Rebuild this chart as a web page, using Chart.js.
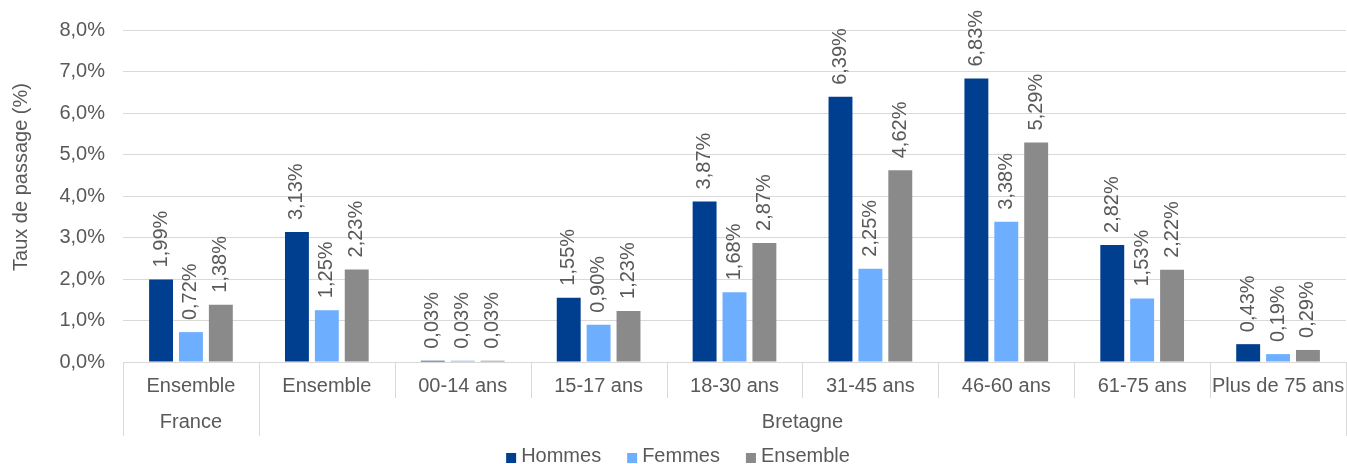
<!DOCTYPE html>
<html lang="fr">
<head>
<meta charset="utf-8">
<title>Taux de passage</title>
<script src="https://cdn.jsdelivr.net/npm/chart.js@4"></script>
<style>
  body { margin: 0; background: #fff; }
  #chart { display: block; }
</style>
</head>
<body>
<canvas id="chart" width="1347" height="464"></canvas>
<script>
// Categories and groups under the x axis
const categories = ['Ensemble', 'Ensemble', '00-14 ans', '15-17 ans', '18-30 ans', '31-45 ans', '46-60 ans', '61-75 ans', 'Plus de 75 ans'];
const groupNames = ['France', 'Bretagne'];
const groupSizes = [1, 8];

// Rates in percent
const hommes = [1.99, 3.13, 0.03, 1.55, 3.87, 6.39, 6.83, 2.82, 0.43];
const femmes = [0.72, 1.25, 0.03, 0.90, 1.68, 2.25, 3.38, 1.53, 0.19];
const ensemble = [1.38, 2.23, 0.03, 1.23, 2.87, 4.62, 5.29, 2.22, 0.29];

const yTicks = [0, 1, 2, 3, 4, 5, 6, 7, 8];

const FONT = '"Liberation Sans", Arial, sans-serif';
const TEXT = '#595959';
const LINE = '#d9d9d9';

function frPercent(v, digits) {
    return v.toFixed(digits).replace('.', ',') + '%';
}

// Value labels written vertically above each bar
const barLabels = {
    id: 'barLabels',
    afterDatasetsDraw(chart) {
        const ctx = chart.ctx;
        ctx.save();
        ctx.font = '20px ' + FONT;
        ctx.fillStyle = TEXT;
        ctx.textAlign = 'left';
        ctx.textBaseline = 'middle';
        chart.data.datasets.forEach((ds, i) => {
            chart.getDatasetMeta(i).data.forEach((bar, j) => {
                ctx.save();
                ctx.translate(bar.x, bar.y - 12);
                ctx.rotate(-Math.PI / 2);
                ctx.fillText(frPercent(ds.data[j], 2), 0, 0);
                ctx.restore();
            });
        });
        ctx.restore();
    }
};

// Two-level category axis with separators, y axis title and legend
const groupedAxis = {
    id: 'groupedAxis',
    afterDraw(chart) {
        const ctx = chart.ctx;
        const x = chart.scales.x;
        const top = chart.chartArea.bottom;
        const step = (x.right - x.left) / categories.length;
        ctx.save();
        ctx.strokeStyle = LINE;
        ctx.lineWidth = 1;
        ctx.fillStyle = TEXT;
        ctx.font = '20px ' + FONT;
        ctx.textAlign = 'center';
        ctx.textBaseline = 'middle';

        categories.forEach((c, i) => {
            ctx.fillText(c, x.getPixelForValue(i), top + 24);
        });

        // short separators between categories, long ones between groups
        const groupEdges = [0];
        groupSizes.reduce((acc, n) => { groupEdges.push(acc + n); return acc + n; }, 0);
        for (let i = 0; i <= categories.length; i++) {
            const px = Math.round(x.left + i * step) + 0.5;
            const long = groupEdges.includes(i);
            ctx.beginPath();
            ctx.moveTo(px, top);
            ctx.lineTo(px, top + (long ? 74 : 36));
            ctx.stroke();
        }

        groupNames.forEach((g, k) => {
            const a = x.left + groupEdges[k] * step;
            const b = x.left + groupEdges[k + 1] * step;
            ctx.fillText(g, (a + b) / 2, top + 60);
        });

        // legend, centred under the chart
        const box = 10, gap = 5, itemGap = 26;
        const items = chart.data.datasets.map(ds => ({
            text: ds.label,
            color: ds.backgroundColor,
            w: box + gap + ctx.measureText(ds.label).width
        }));
        const total = items.reduce((s, it) => s + it.w, 0) + itemGap * (items.length - 1);
        let lx = 678 - total / 2;
        const ly = 456;
        ctx.textAlign = 'left';
        items.forEach(it => {
            ctx.fillStyle = it.color;
            ctx.fillRect(lx, ly - 3, box, box);
            ctx.fillStyle = TEXT;
            ctx.fillText(it.text, lx + box + gap, ly);
            lx += it.w + itemGap;
        });

        // y axis title
        ctx.textAlign = 'center';
        ctx.translate(21, 177);
        ctx.rotate(-Math.PI / 2);
        ctx.fillText('Taux de passage (%)', 0, 0);
        ctx.restore();
    }
};

new Chart(document.getElementById('chart'), {
    type: 'bar',
    data: {
        labels: categories,
        datasets: [
            { label: 'Hommes', data: hommes, backgroundColor: '#003f8f' },
            { label: 'Femmes', data: femmes, backgroundColor: '#6daeff' },
            { label: 'Ensemble', data: ensemble, backgroundColor: '#8a8a8a' }
        ]
    },
    options: {
        responsive: false,
        animation: false,
        devicePixelRatio: 1,
        layout: { padding: { top: 29, right: 1, left: 0, bottom: 27 } },
        datasets: {
            bar: { categoryPercentage: 0.66, barPercentage: 0.8 }
        },
        scales: {
            x: {
                grid: { display: false },
                border: { display: false },
                ticks: { display: false },
                afterFit(scale) { scale.height = 75; }
            },
            y: {
                min: 0,
                max: 8,
                afterBuildTicks(scale) { scale.ticks = yTicks.map(v => ({ value: v })); },
                afterFit(scale) { scale.width = 123; },
                grid: { color: LINE, drawTicks: false },
                border: { display: false },
                ticks: {
                    padding: 18,
                    color: TEXT,
                    font: { family: FONT, size: 20 },
                    callback: v => frPercent(v, 1)
                }
            }
        },
        plugins: {
            legend: { display: false },
            tooltip: { enabled: false }
        }
    },
    plugins: [barLabels, groupedAxis]
});
</script>
</body>
</html>
